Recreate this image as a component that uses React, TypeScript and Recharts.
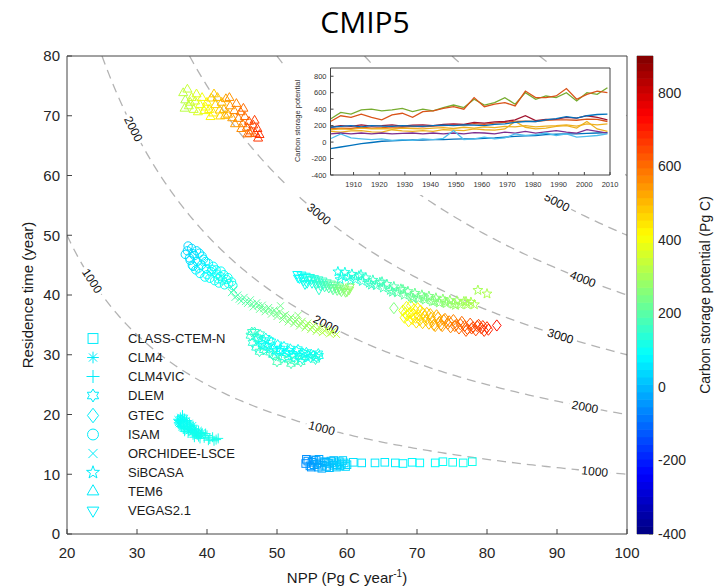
import React from 'react';
import { ComposedChart, Line, Scatter, XAxis, YAxis, Legend, ReferenceArea } from 'recharts';

// ---------------- data ----------------
// [NPP (Pg C/yr), residence time (yr), carbon storage potential (Pg C)]
type P = [number, number, number];

const classCtemN: P[] = [
  [54.1, 11.8, -60], [54.4, 12.2, -50], [54.7, 11.4, -45], [55.0, 12.0, -40], [55.3, 11.6, -35],
  [55.6, 12.3, -30], [55.9, 11.2, -25], [56.2, 11.9, -20], [56.5, 11.5, -15], [56.8, 12.1, -10],
  [57.1, 11.3, -5], [57.4, 11.8, 0], [57.7, 12.2, 5], [58.0, 11.5, 10], [58.3, 11.9, 15],
  [58.6, 11.6, 20], [58.9, 12.1, 25], [59.2, 11.7, 30], [59.6, 11.9, 35], [60.0, 11.6, 40],
  [54.2, 12.5, -55], [54.9, 11.2, -45], [55.2, 12.4, -40], [55.7, 11.7, -30], [56.0, 12.5, -25],
  [56.4, 11.0, -20], [57.0, 12.0, -5], [57.5, 11.1, 0], [58.1, 12.3, 10], [58.5, 11.2, 20],
  [59.0, 11.4, 25], [59.4, 12.3, 30], [59.8, 11.3, 35],
  [60.9, 12.0, 50], [62.1, 11.9, 55], [64.0, 11.9, 60], [65.4, 12.0, 65], [66.9, 11.9, 70],
  [68.0, 11.8, 75], [69.3, 12.0, 80], [70.4, 11.9, 85], [72.6, 11.9, 90], [73.7, 12.1, 95],
  [75.1, 12.0, 100], [76.6, 11.9, 105], [77.9, 12.1, 110],
];
const clm4: P[] = [
  [35.8, 19.2, 95], [36.0, 18.4, 100], [36.2, 19.6, 95], [36.4, 17.8, 100], [36.6, 18.8, 105],
  [36.8, 19.4, 100], [37.0, 17.6, 105], [37.2, 18.4, 100], [37.4, 17.2, 110], [37.6, 18.0, 105],
  [37.9, 17.0, 110], [38.2, 17.6, 105], [38.5, 16.8, 110], [38.8, 17.4, 105], [39.1, 16.6, 110],
  [35.9, 18.6, 95], [36.3, 19.2, 100], [36.7, 18.2, 100], [37.1, 19.0, 100], [37.5, 18.6, 105],
  [37.7, 17.4, 105], [38.0, 18.2, 105], [38.3, 17.0, 110], [38.6, 16.5, 110], [39.3, 17.0, 110],
];
const clm4vic: P[] = [
  [36.0, 19.0, 100], [36.3, 18.0, 105], [36.5, 19.9, 95], [36.8, 17.2, 105], [37.1, 18.9, 100],
  [37.3, 16.9, 110], [37.7, 17.5, 105], [38.0, 16.6, 110], [38.4, 17.2, 105], [38.8, 16.3, 110],
  [39.2, 16.8, 110], [39.6, 16.1, 110], [40.0, 16.5, 115], [40.4, 15.9, 110], [40.8, 16.2, 115],
  [41.3, 15.8, 115], [36.2, 18.6, 100], [36.6, 17.6, 105], [37.5, 17.9, 105], [38.2, 16.2, 110],
  [39.0, 16.0, 110], [39.8, 16.8, 115], [40.2, 15.7, 115], [41.0, 15.6, 115], [41.6, 16.0, 115],
];
const dlem: P[] = [
  [46.2, 33.2, 150], [46.5, 32.0, 140], [46.8, 33.8, 155], [47.0, 31.2, 130], [47.3, 32.6, 120],
  [47.6, 33.4, 150], [47.9, 31.8, 100], [48.1, 30.8, 140], [48.4, 32.8, 110], [48.7, 31.4, 95],
  [49.0, 30.4, 150], [49.2, 32.2, 100], [49.5, 31.0, 90], [49.8, 29.8, 160], [50.1, 31.7, 95],
  [50.4, 30.6, 85], [50.7, 29.4, 165], [51.0, 31.4, 100], [51.3, 30.3, 85], [51.6, 29.2, 170],
  [51.9, 31.0, 110], [52.2, 30.1, 90], [52.5, 29.0, 160], [52.8, 30.6, 100], [53.1, 29.8, 95],
  [53.4, 28.8, 170], [53.7, 30.3, 110], [54.0, 29.6, 100], [54.4, 30.0, 110], [54.8, 29.5, 105],
  [55.2, 29.9, 110], [55.6, 29.6, 115], [56.0, 29.8, 110], [50.0, 28.8, 180], [52.0, 28.5, 175],
  [47.5, 30.5, 160], [46.4, 33.8, 155], [47.1, 32.9, 140], [47.8, 32.4, 110], [48.3, 31.5, 95],
  [48.9, 32.4, 105], [49.4, 30.0, 150], [49.9, 30.6, 90], [50.5, 31.0, 90], [51.1, 29.6, 120],
  [51.7, 30.6, 90], [52.4, 29.6, 110], [53.0, 30.9, 100], [53.6, 29.3, 120], [54.2, 30.4, 100],
  [54.9, 30.1, 105], [55.5, 29.2, 150], [55.9, 30.2, 110],
];
const gtec: P[] = [
  [66.7, 37.8, 250], [68.0, 37.4, 380], [68.2, 36.2, 400], [68.5, 38.0, 390], [68.8, 35.6, 420],
  [69.0, 37.0, 410], [69.3, 36.0, 430], [69.6, 37.6, 420], [69.9, 35.4, 450], [70.2, 36.6, 440],
  [70.5, 37.4, 450], [70.8, 35.3, 470], [71.1, 36.4, 470], [71.4, 37.0, 480], [71.7, 35.2, 490],
  [72.0, 36.2, 500], [72.4, 35.0, 510], [72.8, 36.6, 510], [73.2, 35.5, 530], [73.6, 34.8, 540],
  [74.0, 36.0, 540], [74.4, 35.2, 560], [74.8, 34.6, 570], [75.2, 35.8, 570], [75.6, 35.0, 590],
  [76.0, 34.4, 600], [76.4, 35.5, 600], [76.8, 34.8, 620], [77.2, 34.3, 630], [77.6, 35.2, 630],
  [78.0, 34.6, 640], [78.4, 34.1, 650], [78.8, 35.0, 650], [79.2, 34.4, 660], [79.6, 34.0, 670],
  [80.0, 34.6, 680], [81.4, 34.9, 720], [68.3, 37.0, 390], [68.6, 36.6, 410], [69.1, 38.2, 400],
  [69.4, 36.8, 420], [69.8, 36.2, 440], [70.1, 37.8, 430], [70.4, 35.8, 460], [70.9, 36.9, 460],
  [71.3, 35.8, 480], [71.9, 36.8, 490], [72.2, 35.6, 505], [72.6, 34.8, 520], [73.0, 36.2, 520],
  [73.4, 35.0, 535], [73.8, 35.8, 540], [74.6, 35.6, 565], [75.4, 34.8, 585], [76.2, 35.1, 600],
  [77.0, 34.0, 625], [77.8, 34.4, 640], [78.6, 34.8, 650], [79.4, 34.8, 665], [80.2, 34.2, 690],
];
const isam: P[] = [
  [37.2, 47.4, 40], [37.5, 46.2, 50], [37.8, 47.8, 45], [37.9, 45.0, 60], [38.2, 46.6, 55],
  [38.4, 44.2, 70], [38.6, 45.6, 60], [38.9, 47.0, 50], [39.0, 43.6, 80], [39.2, 45.0, 70],
  [39.5, 46.0, 65], [39.7, 43.0, 90], [39.9, 44.4, 80], [40.2, 45.3, 75], [40.4, 42.8, 95],
  [40.6, 43.9, 90], [40.9, 44.8, 85], [41.1, 42.4, 100], [41.4, 43.5, 95], [41.7, 42.0, 105],
  [41.9, 43.1, 100], [42.2, 42.5, 110], [42.5, 41.7, 105], [42.8, 42.6, 100], [43.1, 41.9, 110],
  [43.5, 42.2, 105], [42.0, 44.0, 90], [38.0, 44.8, 60], [37.6, 45.8, 50], [37.3, 48.2, 35],
  [38.0, 46.9, 50], [38.5, 47.4, 45], [38.8, 44.5, 70], [39.3, 46.5, 60], [39.8, 45.6, 70],
  [40.0, 43.4, 90], [40.7, 44.3, 85], [41.3, 44.2, 90], [41.6, 42.7, 100], [42.4, 43.4, 100],
  [43.0, 42.9, 105], [43.7, 41.6, 110], [36.9, 46.8, 40],
];
const orchidee: P[] = [
  [43.5, 40.4, 180], [44.0, 39.6, 190], [44.4, 40.0, 185], [44.9, 39.0, 200], [45.3, 39.6, 195],
  [45.8, 38.6, 210], [46.2, 39.2, 205], [46.6, 38.0, 215], [47.1, 38.7, 210], [47.5, 37.6, 220],
  [47.9, 38.3, 215], [48.3, 37.2, 225], [48.8, 37.9, 220], [49.2, 36.8, 230], [49.6, 37.5, 225],
  [50.0, 36.4, 235], [50.4, 37.2, 240], [50.8, 35.9, 245], [51.2, 36.7, 240], [51.6, 35.5, 255],
  [52.0, 36.3, 250], [52.4, 35.2, 260], [52.8, 35.9, 270], [53.2, 34.8, 275], [53.6, 35.6, 280],
  [54.0, 34.5, 285], [54.4, 35.3, 290], [54.8, 34.2, 295], [55.2, 34.9, 300], [55.6, 33.9, 305],
  [56.0, 34.6, 310], [56.5, 33.7, 315], [57.0, 34.3, 320], [57.5, 33.5, 320], [58.0, 34.0, 325],
  [58.5, 33.4, 330], [50.5, 38.2, 230], [53.0, 36.6, 260], [43.8, 40.9, 178], [44.6, 39.3, 195],
  [45.5, 38.9, 200], [46.4, 38.5, 208], [47.3, 38.2, 215], [48.1, 37.7, 222], [49.0, 37.4, 228],
  [49.9, 36.9, 233], [50.9, 36.5, 243], [51.8, 36.0, 252], [52.6, 35.6, 262], [53.4, 35.2, 278],
  [54.2, 34.9, 288], [55.0, 34.6, 298], [55.8, 34.2, 308], [56.8, 34.0, 318], [57.8, 33.7, 322],
];
const sibcasa: P[] = [
  [58.7, 43.9, 110], [59.2, 43.2, 115], [59.7, 43.8, 120], [60.2, 43.0, 125], [60.7, 43.5, 130],
  [61.2, 42.6, 135], [61.7, 43.2, 140], [62.2, 42.3, 145], [62.7, 42.9, 150], [63.2, 42.0, 155],
  [63.7, 42.5, 160], [64.2, 41.6, 165], [64.7, 42.1, 170], [65.2, 41.2, 175], [65.7, 41.8, 180],
  [66.2, 40.8, 185], [66.7, 41.4, 190], [67.2, 40.4, 200], [67.7, 41.0, 205], [68.2, 40.0, 210],
  [68.7, 40.6, 215], [69.2, 39.7, 220], [69.7, 40.3, 225], [70.2, 39.4, 230], [70.7, 40.0, 235],
  [71.2, 39.2, 240], [71.7, 39.8, 245], [72.2, 38.9, 250], [72.7, 39.5, 255], [73.2, 38.7, 260],
  [73.7, 39.3, 265], [74.2, 38.6, 270], [74.7, 39.1, 275], [75.2, 38.5, 280], [75.7, 39.0, 285],
  [76.2, 38.4, 290], [76.7, 38.9, 295], [77.2, 38.4, 300], [77.7, 38.8, 305], [78.2, 38.4, 310],
  [78.7, 40.8, 300], [80.0, 40.2, 310], [59.0, 42.6, 115], [60.5, 42.4, 128], [62.0, 43.4, 140],
  [63.5, 41.7, 158], [65.0, 42.2, 172], [66.5, 40.5, 188], [68.0, 40.9, 208], [69.5, 39.4, 222],
  [71.0, 39.6, 238], [72.5, 39.0, 252], [74.0, 38.9, 268], [75.5, 38.3, 282], [77.0, 38.9, 298],
];
const tem6: P[] = [
  [36.6, 73.8, 330], [36.9, 72.6, 320], [37.2, 74.4, 340], [37.4, 71.6, 330], [37.8, 73.0, 350],
  [38.1, 71.0, 345], [38.3, 72.4, 360], [38.7, 70.6, 370], [39.0, 71.8, 380], [39.3, 73.0, 400],
  [39.6, 70.8, 390], [40.0, 72.2, 420], [40.3, 71.0, 430], [40.6, 72.9, 460], [40.9, 70.4, 440],
  [41.2, 71.8, 470], [41.5, 73.0, 490], [41.8, 70.9, 480], [42.1, 72.2, 500], [42.4, 71.0, 510],
  [42.7, 72.8, 530], [43.0, 70.2, 520], [43.3, 71.6, 540], [43.6, 69.6, 540], [43.9, 70.8, 560],
  [44.2, 72.0, 570], [44.5, 69.5, 570], [44.8, 70.6, 590], [45.1, 68.6, 580], [45.4, 69.8, 600],
  [45.7, 68.0, 610], [46.0, 69.0, 630], [46.3, 67.4, 620], [46.6, 68.4, 650], [46.9, 67.0, 660],
  [47.2, 67.8, 670], [47.5, 66.8, 680], [45.8, 66.9, 590], [44.9, 67.8, 560], [36.8, 71.2, 325],
  [37.6, 72.2, 345], [38.5, 73.6, 370], [39.8, 71.4, 410], [40.5, 69.8, 420], [41.0, 73.6, 480],
  [41.9, 69.9, 470], [42.6, 70.0, 500], [43.2, 73.0, 550], [44.0, 68.6, 540], [45.2, 71.2, 600],
  [46.1, 67.0, 610], [46.8, 69.2, 660], [47.3, 66.2, 670],
];
const vegas: P[] = [
  [52.9, 43.5, 90], [53.2, 42.8, 95], [53.5, 43.4, 100], [53.8, 42.4, 105], [54.1, 43.2, 110],
  [54.4, 42.6, 115], [54.7, 43.0, 120], [55.0, 42.0, 125], [55.3, 42.8, 130], [55.6, 41.8, 140],
  [55.9, 42.6, 145], [56.2, 41.6, 155], [56.5, 42.4, 160], [56.8, 41.4, 170], [57.1, 42.1, 180],
  [57.4, 41.2, 190], [57.7, 41.9, 200], [58.0, 40.9, 210], [58.3, 41.7, 220], [58.6, 40.8, 230],
  [58.9, 41.4, 240], [59.2, 40.6, 250], [59.6, 41.1, 260], [60.0, 40.6, 270], [60.3, 40.9, 280],
  [54.0, 41.8, 110], [56.0, 40.9, 150], [53.0, 42.9, 92], [53.7, 43.0, 102], [54.3, 42.0, 115],
  [54.9, 42.6, 122], [55.5, 42.4, 135], [56.0, 42.1, 150], [56.6, 41.8, 165], [57.2, 41.6, 185],
  [57.9, 41.3, 205], [58.5, 41.2, 225], [59.0, 40.9, 245], [59.8, 40.5, 265], [60.4, 41.4, 280],
];

const modelNames = ['CLASS-CTEM-N', 'CLM4', 'CLM4VIC', 'DLEM', 'GTEC', 'ISAM', 'ORCHIDEE-LSCE', 'SiBCASA', 'TEM6', 'VEGAS2.1'];
const modelMarkers = ['square', 'asterisk', 'plus', 'hexagram', 'diamond', 'circle', 'x', 'pentagram', 'triUp', 'triDown'];
const modelPoints = [classCtemN, clm4, clm4vic, dlem, gtec, isam, orchidee, sibcasa, tem6, vegas];

// iso-carbon contours (Pg C) and where their labels sit (NPP)
const contourLevels = [1000, 2000, 3000, 4000, 5000, 6000, 7000];
const contourLabelLevels = [1000, 2000, 3000, 2000, 1000, 5000, 4000, 3000, 2000, 1000];
const contourLabelNpp = [23.6, 29.5, 56.0, 57.0, 56.4, 90.0, 93.7, 90.5, 94.0, 95.4];

// inset: carbon storage potential time series
const insetYears = [1901, 1905, 1909, 1913, 1917, 1921, 1925, 1929, 1933, 1937, 1941, 1945, 1949, 1953,
  1957, 1961, 1965, 1969, 1973, 1977, 1981, 1985, 1989, 1993, 1997, 2001, 2005, 2009];
const insClass = [-80, -60, -40, -20, -5, 10, 15, 20, 25, 25, 30, 30, 35, 40, 40, 45, 50, 60, 70, 75, 80, 90, 95, 100, 100, 105, 110, 115];
const insClm4 = [160, 170, 165, 180, 170, 175, 185, 180, 190, 185, 195, 200, 205, 210, 225, 215, 230, 240, 250, 255, 250, 265, 270, 270, 265, 280, 275, 250];
const insClm4vic = [130, 120, 135, 140, 125, 120, 150, 135, 130, 140, 130, 150, 145, 140, 160, 150, 145, 160, 250, 180, 160, 170, 190, 200, 170, 250, 160, 130];
const insDlem = [100, 110, 100, 110, 100, 110, 100, 105, 110, 100, 110, 100, 110, 100, 115, 110, 100, 120, 110, 130, 110, 125, 140, 120, 110, 150, 130, 110];
const insGtec = [280, 360, 340, 390, 400, 380, 390, 410, 370, 400, 380, 420, 450, 420, 520, 450, 480, 540, 460, 600, 520, 560, 540, 600, 500, 600, 580, 660];
const insIsam = [40, 100, 50, 40, 30, 40, 20, 30, 20, 40, 30, 45, 140, 30, 40, 60, 40, 50, 100, 80, 90, 110, 80, 100, 60, 70, 80, 100];
const insOrchidee = [180, 200, 190, 210, 195, 200, 210, 195, 205, 210, 200, 215, 220, 215, 240, 230, 245, 250, 270, 320, 260, 275, 280, 300, 290, 320, 300, 270];
const insSibcasa = [180, 190, 200, 185, 200, 195, 190, 200, 195, 190, 200, 205, 200, 210, 205, 200, 215, 220, 240, 250, 250, 270, 285, 310, 290, 320, 335, 340];
const insTem6 = [250, 320, 300, 340, 300, 270, 330, 350, 300, 370, 380, 410, 430, 400, 540, 430, 460, 480, 440, 620, 540, 540, 560, 650, 520, 580, 620, 600];
const insVegas = [150, 160, 155, 170, 160, 165, 160, 170, 165, 160, 170, 175, 165, 180, 170, 185, 175, 190, 185, 200, 185, 195, 200, 210, 195, 220, 210, 220];
const insetSeries = [insClass, insClm4, insClm4vic, insDlem, insGtec, insIsam, insOrchidee, insSibcasa, insTem6, insVegas];
const insetColors = ['#0072BD', '#D95319', '#EDB120', '#7E2F8E', '#77AC30', '#4DBEEE', '#A2142F', '#0072BD', '#D95319', '#EDB120'];

const xTicks = [20, 30, 40, 50, 60, 70, 80, 90, 100];
const yTicks = [0, 10, 20, 30, 40, 50, 60, 70, 80];
const cbTicks = [-400, -200, 0, 200, 400, 600, 800];
const insetXTicks = [1910, 1920, 1930, 1940, 1950, 1960, 1970, 1980, 1990, 2000, 2010];
const insetYTicks = [-400, -200, 0, 200, 400, 600, 800];

// ---------------- helpers ----------------
const C_MIN = -400, C_MAX = 900;
const FONT = '"Liberation Sans", Arial, sans-serif';
const AXIS = '#444';

const jet = (v: number) => {
  const t = Math.min(1, Math.max(0, (v - C_MIN) / (C_MAX - C_MIN)));
  const f = (x: number) => Math.round(255 * Math.min(1, Math.max(0, x)));
  return `rgb(${f(1.5 - Math.abs(4 * t - 3))},${f(1.5 - Math.abs(4 * t - 2))},${f(1.5 - Math.abs(4 * t - 1))})`;
};

const star = (cx: number, cy: number, n: number, R: number, r: number, a0: number) => {
  const pts: string[] = [];
  for (let i = 0; i < 2 * n; i++) {
    const rad = i % 2 === 0 ? R : r;
    const a = ((a0 + (i * 180) / n) * Math.PI) / 180;
    pts.push(`${(cx + rad * Math.cos(a)).toFixed(2)},${(cy + rad * Math.sin(a)).toFixed(2)}`);
  }
  return pts.join(' ');
};

function Marker({ kind, cx, cy, color, s = 1 }: { kind: string; cx: number; cy: number; color: string; s?: number }) {
  const common = { fill: 'none', stroke: color, strokeWidth: 1 };
  switch (kind) {
    case 'square': {
      const h = 3.8 * s;
      return <rect x={cx - h} y={cy - h} width={2 * h} height={2 * h} {...common} />;
    }
    case 'asterisk': {
      const r = 4.5 * s, d = r * 0.7;
      return <path d={`M${cx - r},${cy}H${cx + r}M${cx},${cy - r}V${cy + r}M${cx - d},${cy - d}L${cx + d},${cy + d}M${cx - d},${cy + d}L${cx + d},${cy - d}`} {...common} />;
    }
    case 'plus': {
      const r = 5 * s;
      return <path d={`M${cx - r},${cy}H${cx + r}M${cx},${cy - r}V${cy + r}`} {...common} />;
    }
    case 'hexagram':
      return <polygon points={star(cx, cy, 6, 5 * s, 2.9 * s, -90)} {...common} />;
    case 'diamond': {
      const w = 4.3 * s, h = 5.6 * s;
      return <polygon points={`${cx},${cy - h} ${cx + w},${cy} ${cx},${cy + h} ${cx - w},${cy}`} {...common} />;
    }
    case 'circle':
      return <circle cx={cx} cy={cy} r={4.2 * s} {...common} />;
    case 'x': {
      const r = 3.5 * s;
      return <path d={`M${cx - r},${cy - r}L${cx + r},${cy + r}M${cx - r},${cy + r}L${cx + r},${cy - r}`} {...common} />;
    }
    case 'pentagram':
      return <polygon points={star(cx, cy, 5, 5.2 * s, 2.1 * s, -90)} {...common} />;
    case 'triUp': {
      const r = 5.2 * s;
      return <polygon points={`${cx},${cy - r} ${cx + 0.87 * r},${cy + 0.5 * r} ${cx - 0.87 * r},${cy + 0.5 * r}`} {...common} />;
    }
    case 'triDown': {
      const r = 5.2 * s;
      return <polygon points={`${cx},${cy + r} ${cx + 0.87 * r},${cy - 0.5 * r} ${cx - 0.87 * r},${cy - 0.5 * r}`} {...common} />;
    }
    default:
      return null;
  }
}

// ---------------- derived tables ----------------
const contourData = contourLevels.map((L) => {
  const start = Math.max(20, L / 80);
  const pts = [{ x: start, y: L / start }];
  for (let v = 20; v <= 100.0001; v += 0.5) if (v > start + 1e-6) pts.push({ x: v, y: L / v });
  return pts;
});

const labelData = contourLabelLevels.map((L, i) => ({ x: contourLabelNpp[i], y: L / contourLabelNpp[i], level: L }));

const modelData = modelPoints.map((arr) => arr.map(([x, y, c]) => ({ x, y, c })));

const insetTable = insetYears.map((yr, i) => {
  const row: Record<string, number> = { year: yr };
  insetSeries.forEach((s, k) => (row[`m${k}`] = s[i]));
  return row;
});

const CB_N = 64;
const cbBins = Array.from({ length: CB_N }, (_, i) => {
  const step = (C_MAX - C_MIN) / CB_N;
  return { x: 0.5, c: C_MIN + (i + 0.5) * step };
});

// plot geometry (label angle and colour-bar stripe height only)
const PX_PER_X = 560 / 80;
const PX_PER_Y = 478 / 80;
const CB_STRIPE = 478 / CB_N;

const LabelShape = (props: any) => {
  const { cx, cy, payload } = props;
  if (cx == null || cy == null) return null;
  const slope = (payload.level / (payload.x * payload.x)) * (PX_PER_Y / PX_PER_X);
  const ang = (Math.atan(slope) * 180) / Math.PI;
  return (
    <g transform={`translate(${cx},${cy}) rotate(${ang})`}>
      <rect x={-16} y={-7} width={32} height={14} fill="#fff" />
      <text x={0} y={0} dy="0.35em" textAnchor="middle" fontSize={12} fontFamily={FONT} fill="#111">
        {payload.level}
      </text>
    </g>
  );
};

const StripeShape = (props: any) => {
  const { cx, cy, payload } = props;
  if (cx == null || cy == null) return null;
  return <rect x={cx - 8} y={cy - CB_STRIPE / 2 - 0.3} width={16} height={CB_STRIPE + 0.6} fill={jet(payload.c)} stroke="none" />;
};

const LEGEND_COLOR = 'rgb(0,236,250)';

const renderLegend = () => (
  <div style={{ fontFamily: FONT, fontSize: 13, color: '#1a1a1a' }}>
    {modelNames.map((name, i) => (
      <div key={name} style={{ display: 'flex', alignItems: 'center', height: 19.15 }}>
        <svg width={26} height={19} style={{ overflow: 'visible', flex: 'none' }}>
          <Marker kind={modelMarkers[i]} cx={13} cy={9.5} color={LEGEND_COLOR} s={1.3} />
        </svg>
        <span style={{ marginLeft: 22, whiteSpace: 'nowrap', lineHeight: '19px' }}>{name}</span>
      </div>
    ))}
  </div>
);

const tickStyle = { fontSize: 15, fill: '#262626', fontFamily: FONT };
const insetTick = { fontSize: 7.5, fill: '#333', fontFamily: FONT };

export default function App() {
  return (
    <div style={{ position: 'absolute', left: 0, top: 0, width: 720, height: 588, background: '#fff', overflow: 'hidden' }}>
      {/* main chart */}
      <div style={{ position: 'absolute', left: 0, top: 0 }}>
        <ComposedChart width={720} height={588} margin={{ top: 55, right: 92, bottom: 0, left: 0 }}>
          <XAxis dataKey="x" type="number" domain={[20, 100]} ticks={xTicks} interval={0} allowDataOverflow
            height={54} tickSize={-5} tickMargin={18} tick={tickStyle} stroke={AXIS} />
          <XAxis xAxisId="top" dataKey="x" orientation="top" type="number" domain={[20, 100]} ticks={xTicks} interval={0}
            allowDataOverflow height={1} tickSize={-5} tick={false} stroke={AXIS} />
          <YAxis dataKey="y" type="number" domain={[0, 80]} ticks={yTicks} interval={0} allowDataOverflow
            width={67} tickSize={-5} tickMargin={12} tick={tickStyle} stroke={AXIS} />
          <YAxis yAxisId="right" dataKey="y" orientation="right" type="number" domain={[0, 80]} ticks={yTicks} interval={0}
            allowDataOverflow width={1} tickSize={-5} tick={false} stroke={AXIS} />
          {contourData.map((d, i) => (
            <Line key={`c${i}`} data={d} dataKey="y" type="linear" stroke="#b3b3b3" strokeWidth={1.3}
              strokeDasharray="9 6" dot={false} activeDot={false} isAnimationActive={false} legendType="none" />
          ))}
          <Scatter xAxisId="top" yAxisId="right" data={labelData} shape={LabelShape} isAnimationActive={false} legendType="none" />
          {modelData.map((d, i) => (
            <Scatter key={modelNames[i]} name={modelNames[i]} data={d} isAnimationActive={false}
              shape={(p: any) => (p.cx == null ? null : <Marker kind={modelMarkers[i]} cx={p.cx} cy={p.cy} color={jet(p.payload.c)} />)} />
          ))}
          <Legend content={renderLegend} layout="vertical" align="center" verticalAlign="middle"
            wrapperStyle={{ left: 80, top: 329, width: 200, height: 195 }} />
        </ComposedChart>
      </div>

      {/* colorbar */}
      <div style={{ position: 'absolute', left: 630, top: 0 }}>
        <ComposedChart width={90} height={588} margin={{ top: 56, right: 27, bottom: 54, left: 7 }}>
          <XAxis type="number" dataKey="x" domain={[0, 1]} hide />
          <YAxis type="number" dataKey="c" orientation="right" domain={[C_MIN, C_MAX]} ticks={cbTicks} interval={0}
            allowDataOverflow width={40} tickSize={-4} tickMargin={9} tick={{ ...tickStyle, fontSize: 14, textAnchor: 'start' }}
            axisLine={false} stroke={AXIS} />
          <Scatter data={cbBins} shape={StripeShape} isAnimationActive={false} />
          <ReferenceArea x1={0} x2={1} y1={C_MIN} y2={C_MAX} fill="none" stroke="#777" strokeWidth={1} ifOverflow="visible" />
        </ComposedChart>
      </div>

      {/* inset */}
      <div style={{ position: 'absolute', left: 285, top: 63, width: 340, height: 132, background: '#fff' }}>
        <ComposedChart width={340} height={132} data={insetTable} margin={{ top: 4, right: 14, bottom: 4, left: 12 }}>
          <XAxis dataKey="year" type="number" domain={[1901, 2010]} ticks={insetXTicks} interval={0} allowDataOverflow
            height={16} tickSize={-3} tickMargin={10} tick={insetTick} stroke={AXIS} />
          <XAxis xAxisId="t" dataKey="year" orientation="top" type="number" domain={[1901, 2010]} ticks={insetXTicks} interval={0}
            allowDataOverflow height={1} tickSize={-3} tick={false} stroke={AXIS} />
          <YAxis type="number" domain={[-400, 900]} ticks={insetYTicks} interval={0} allowDataOverflow
            width={33.5} tickSize={-3} tickMargin={7} tick={insetTick} stroke={AXIS} />
          <YAxis yAxisId="r" orientation="right" type="number" domain={[-400, 900]} ticks={insetYTicks} interval={0}
            allowDataOverflow width={1} tickSize={-3} tick={false} stroke={AXIS} />
          {insetSeries.map((_, k) => (
            <Line key={k} dataKey={`m${k}`} type="linear" stroke={insetColors[k]} strokeWidth={1.3}
              xAxisId={k === 9 ? 't' : 0} yAxisId={k === 9 ? 'r' : 0}
              dot={false} activeDot={false} isAnimationActive={false} />
          ))}
        </ComposedChart>
      </div>

      {/* titles and axis labels */}
      <div style={{ position: 'absolute', left: 0, top: 0, width: 730, textAlign: 'center', lineHeight: '44px',
        fontSize: 30, fontFamily: '"Open Sans", sans-serif', color: '#000' }}>CMIP5</div>
      <div style={{ position: 'absolute', left: 27, top: 295, transform: 'translate(-50%,-50%) rotate(-90deg)',
        whiteSpace: 'nowrap', fontSize: 15, fontFamily: FONT, color: '#1a1a1a' }}>Residence time (year)</div>
      <div style={{ position: 'absolute', left: 347, top: 577, transform: 'translate(-50%,-50%)',
        whiteSpace: 'nowrap', fontSize: 15, fontFamily: FONT, color: '#1a1a1a' }}>
        NPP (Pg C year<sup style={{ fontSize: 10 }}>-1</sup>)
      </div>
      <div style={{ position: 'absolute', left: 705, top: 295, transform: 'translate(-50%,-50%) rotate(-90deg)',
        whiteSpace: 'nowrap', fontSize: 14, fontFamily: FONT, color: '#1a1a1a' }}>Carbon storage potential (Pg C)</div>
      <div style={{ position: 'absolute', left: 297, top: 121, transform: 'translate(-50%,-50%) rotate(-90deg)',
        whiteSpace: 'nowrap', fontSize: 7.5, fontFamily: FONT, color: '#333' }}>Carbon storage potential</div>
    </div>
  );
}
